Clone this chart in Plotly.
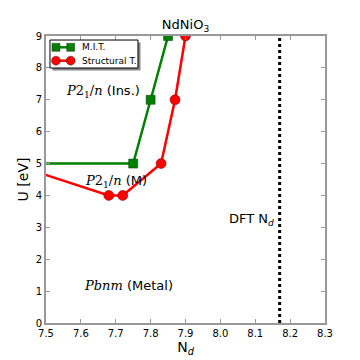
import plotly.graph_objects as go

mit_nd = [7.4, 7.75, 7.8, 7.85]
mit_u = [5, 5, 7, 9]
str_nd = [7.4, 7.68, 7.72, 7.83, 7.87, 7.9]
str_u = [5, 4, 4, 5, 7, 9]
dft_nd = 8.17
x_ticks = [7.5, 7.6, 7.7, 7.8, 7.9, 8.0, 8.1, 8.2, 8.3]
y_ticks = list(range(0, 10))
legend_names = ["M.I.T.", "Structural T."]
legend_colors = ["green", "red"]
legend_symbols = ["rect", "circle"]

fig = go.Figure()
fig.add_trace(go.Scatter(x=mit_nd, y=mit_u, mode="lines+markers", name=legend_names[0],
                         line=dict(color="green", width=2.5), showlegend=False,
                         marker=dict(symbol="square", size=9, color="green",
                                     line=dict(color="#004000", width=0.5))))
fig.add_trace(go.Scatter(x=str_nd, y=str_u, mode="lines+markers", name=legend_names[1],
                         line=dict(color="red", width=2.5), showlegend=False,
                         marker=dict(symbol="circle", size=10, color="red",
                                     line=dict(color="#600000", width=0.5))))
fig.add_trace(go.Scatter(x=[dft_nd, dft_nd], y=[0, 9], mode="lines", showlegend=False,
                         line=dict(color="black", width=3, dash="dot")))

font_main = "DejaVu Sans"
serif = "<span style='font-family:DejaVu Serif'>"
fig.add_annotation(x=7.552, y=7.25, text=serif + "<i>P</i>2<sub>1</sub>/<i>n</i></span> (Ins.)", showarrow=False,
                   xanchor="left", font=dict(size=13, color="black", family=font_main))
fig.add_annotation(x=7.605, y=4.43, text=serif + "<i>P</i>2<sub>1</sub>/<i>n</i></span> (M)", showarrow=False,
                   xanchor="left", font=dict(size=13, color="black", family=font_main))
fig.add_annotation(x=7.603, y=1.17, text=serif + "<i>Pbnm</i></span> (Metal)", showarrow=False,
                   xanchor="left", font=dict(size=13, color="black", family=font_main))
fig.add_annotation(x=8.16, y=3.25, text="DFT N<sub><i>d</i></sub>", showarrow=False,
                   xanchor="right", font=dict(size=13, color="black", family=font_main))

# Custom matplotlib-like legend (paper coordinates)
box_x0, box_x1, box_y0, box_y1 = 0.0143, 0.3297, 0.8885, 0.986
fig.add_shape(type="rect", xref="paper", yref="paper", x0=box_x0 + 0.009, x1=box_x1 + 0.009,
              y0=box_y0 - 0.009, y1=box_y1 - 0.009, fillcolor="#888888", line=dict(width=0), layer="above")
fig.add_shape(type="rect", xref="paper", yref="paper", x0=box_x0, x1=box_x1, y0=box_y0, y1=box_y1,
              fillcolor="white", line=dict(color="black", width=1), layer="above")
row_y = [0.9606, 0.914]
for name, col, sym, ry in zip(legend_names, legend_colors, legend_symbols, row_y):
    fig.add_shape(type="line", xref="paper", yref="paper", x0=0.024, x1=0.0957, y0=ry, y1=ry,
                  line=dict(color=col, width=2.5), layer="above")
    for mx in (0.0358, 0.0885):
        half = 4 if sym == "rect" else 4.5
        fig.add_shape(type=sym, xref="paper", yref="paper", xsizemode="pixel", ysizemode="pixel",
                      xanchor=mx, yanchor=ry, x0=-half, x1=half, y0=-half, y1=half,
                      fillcolor=col, line=dict(color="#333333", width=0.5), layer="above")
    fig.add_annotation(xref="paper", yref="paper", x=0.122, y=ry, text=name, showarrow=False,
                       xanchor="left", yanchor="middle", font=dict(size=9, color="black", family=font_main))

fig.update_layout(
    width=360, height=360,
    margin=dict(l=38, r=43, t=28, b=45),
    paper_bgcolor="white", plot_bgcolor="white",
    font=dict(family=font_main, color="black"),
    title=dict(text="NdNiO<sub>3</sub>", x=0.5, xref="paper", y=1.0, yref="paper",
               yanchor="bottom", pad=dict(b=7),
               xanchor="center", font=dict(size=13, family=font_main)),
    showlegend=False,
    xaxis=dict(range=[7.5, 8.3], tickvals=x_ticks, ticktext=[f"{v:.1f}" for v in x_ticks],
               ticks="inside", ticklen=4, tickcolor="#999999", mirror="ticks", automargin=False,
               showline=True, linecolor="#999999", linewidth=2, showgrid=False, zeroline=False,
               tickfont=dict(size=10), title=dict(text="N<sub><i>d</i></sub>", font=dict(size=14), standoff=0)),
    yaxis=dict(range=[0, 9], tickvals=y_ticks, ticks="inside", ticklen=4, tickcolor="#999999",
               mirror="ticks", showline=True, linecolor="#999999", linewidth=2, showgrid=False,
               zeroline=False, tickfont=dict(size=10), automargin=False,
               title=dict(text="U [eV]", font=dict(size=14), standoff=4)),
)
fig.write_html("out.html")
